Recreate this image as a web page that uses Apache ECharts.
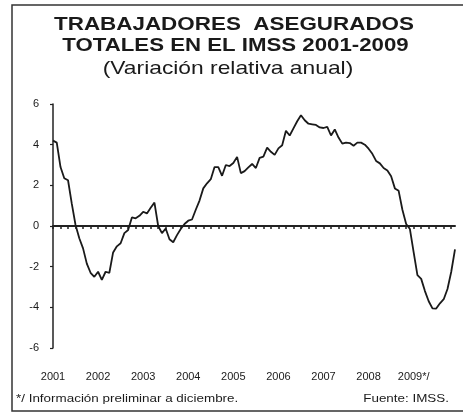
<!DOCTYPE html>
<html>
<head>
<meta charset="utf-8">
<script src="https://cdn.jsdelivr.net/npm/echarts@6/dist/echarts.min.js"></script>
<style>html,body{margin:0;padding:0;background:#fff}#c{width:463px;height:413px}</style>
</head>
<body>
<div id="c"></div>
<script>
// Monthly categories Jan 2001 - Dec 2009
const years = ['2001','2002','2003','2004','2005','2006','2007','2008','2009'];
const yearLabels = ['2001','2002','2003','2004','2005','2006','2007','2008','2009*/'];
const months = [];
years.forEach(y => { for (let m = 1; m <= 12; m++) months.push(y + '-' + (m < 10 ? '0' + m : m)); });

const v2001 = [4.2, 4.1, 2.9, 2.35, 2.25, 1.1, 0.05, -0.6, -1.1, -1.85, -2.3, -2.5];
const v2002 = [-2.25, -2.65, -2.25, -2.3, -1.3, -1.0, -0.85, -0.35, -0.2, 0.42, 0.38, 0.5];
const v2003 = [0.7, 0.62, 0.9, 1.15, 0.0, -0.35, -0.12, -0.65, -0.8, -0.45, -0.15, 0.1];
const v2004 = [0.26, 0.32, 0.8, 1.25, 1.85, 2.1, 2.3, 2.9, 2.9, 2.47, 3.0, 2.95];
const v2005 = [3.1, 3.4, 2.6, 2.7, 2.88, 3.05, 2.85, 3.35, 3.41, 3.85, 3.65, 3.5];
const v2006 = [3.82, 3.97, 4.68, 4.45, 4.8, 5.15, 5.45, 5.2, 5.03, 5.0, 4.97, 4.85];
const v2007 = [4.82, 4.88, 4.45, 4.75, 4.35, 4.05, 4.1, 4.08, 3.95, 4.1, 4.1, 4.0];
const v2008 = [3.8, 3.55, 3.2, 3.08, 2.85, 2.73, 2.45, 1.85, 1.73, 0.8, 0.1, -0.15];
const v2009 = [-1.3, -2.42, -2.6, -3.2, -3.7, -4.05, -4.06, -3.8, -3.6, -3.1, -2.25, -1.15];
const values = [].concat(v2001, v2002, v2003, v2004, v2005, v2006, v2007, v2008, v2009);

const yTicks = [-6, -4, -2, 0, 2, 4, 6];

const FONT = '"Liberation Sans", Arial, sans-serif';
const INK = '#1a1a1a';
const chart = echarts.init(document.getElementById('c'), null, {renderer: 'canvas'});
chart.setOption({
  backgroundColor: '#ffffff',
  animation: false,
  graphic: [
    {type: 'rect', shape: {x: 12, y: 5, width: 470, height: 406},
     style: {fill: 'none', stroke: '#333', lineWidth: 1.5}, silent: true},
    {type: 'text', x: 234, y: 25, scaleX: 1.18,
     style: {text: 'TRABAJADORES  ASEGURADOS', font: 'bold 19px ' + FONT, fill: INK,
             textAlign: 'center', textVerticalAlign: 'middle'}},
    {type: 'text', x: 235.5, y: 46, scaleX: 1.17,
     style: {text: 'TOTALES EN EL IMSS 2001-2009', font: 'bold 19px ' + FONT, fill: INK,
             textAlign: 'center', textVerticalAlign: 'middle'}},
    {type: 'text', x: 228, y: 69, scaleX: 1.2,
     style: {text: '(Variación relativa anual)', font: '19px ' + FONT, fill: INK,
             textAlign: 'center', textVerticalAlign: 'middle'}},
    {type: 'text', x: 16, y: 399, scaleX: 1.22,
     style: {text: '*/ Información preliminar a diciembre.', font: '11px ' + FONT, fill: INK,
             textAlign: 'left', textVerticalAlign: 'middle'}},
    {type: 'text', x: 449, y: 399, scaleX: 1.22,
     style: {text: 'Fuente: IMSS.', font: '11px ' + FONT, fill: INK,
             textAlign: 'right', textVerticalAlign: 'middle'}}
  ],
  grid: {left: 53, right: 8, top: 104, bottom: 65, containLabel: false},
  xAxis: [
    {type: 'category', data: months, boundaryGap: false,
     axisLine: {onZero: true, lineStyle: {color: '#222', width: 2}},
     axisTick: {show: true, interval: 1, length: 3, lineStyle: {color: '#222', width: 1.5}},
     axisLabel: {show: false}, splitLine: {show: false}},
    {type: 'category', data: months, boundaryGap: false, position: 'bottom',
     axisLine: {show: false}, axisTick: {show: false}, splitLine: {show: false},
     axisLabel: {show: true, interval: (i) => i % 12 === 0, margin: 23,
       formatter: (val, i) => yearLabels[Math.floor(i / 12)],
       fontFamily: FONT, fontSize: 11, color: INK}}
  ],
  yAxis: {
    type: 'value', min: yTicks[0], max: yTicks[yTicks.length - 1], interval: 2,
    axisLine: {show: true, lineStyle: {color: '#222', width: 1.5}},
    axisTick: {show: true, length: 3, lineStyle: {color: '#222', width: 1.2}},
    axisLabel: {margin: 14, fontFamily: FONT, fontSize: 11, color: INK},
    splitLine: {show: false}
  },
  series: [{
    type: 'line', data: values, xAxisIndex: 0, showSymbol: false, symbol: 'none',
    lineStyle: {color: INK, width: 1.8}
  }]
});
</script>
</body>
</html>
